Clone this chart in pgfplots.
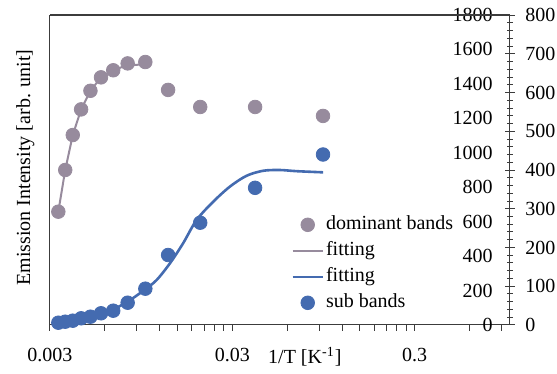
\documentclass[border=0pt]{standalone}
\usepackage{fontspec}
\setmainfont{Liberation Serif}
\usepackage{pgfplots}
\pgfplotsset{compat=1.18}
\definecolor{gr}{RGB}{151,139,157}
\definecolor{bl}{RGB}{68,107,176}
\definecolor{ax}{RGB}{60,60,60}
\begin{document}
\fontsize{10}{12}\selectfont
\begin{tikzpicture}
\begin{axis}[
  scale only axis, width=230pt, height=155pt,
  at={(0pt,0pt)}, anchor=south west,
  xmode=log, xmin=0.003, xmax=1,
  ymin=0, ymax=1800, clip=false,
  tick label style={font=\fontsize{10}{12}\selectfont},
  label style={font=\fontsize{10}{12}\selectfont},
  axis line style={ax, line width=0.5pt},
  tick style={ax, line width=0.5pt},
  xtick={0.003,0.03,0.3}, xticklabels={0.003,0.03,0.3},
  minor xtick={0.006,0.009,0.012,0.015,0.018,0.021,0.024,0.027,0.06,0.09,0.12,0.15,0.18,0.21,0.24,0.27,0.6,0.9},
  xtick pos=bottom, tick align=outside,
  major tick length=3pt, minor tick length=3pt,
  xticklabel style={yshift=-5pt},
  ytick={0,200,...,1800}, ytick pos=right, yticklabel pos=right,
  ytick style={draw=none},
  yticklabel style={anchor=east, inner sep=0pt, xshift=-11.5pt},
  xlabel={1/T [K\textsuperscript{-1}]},
  ylabel={Emission Intensity [arb. unit]},
  every axis x label/.style={at={(axis description cs:0.554,-0.103)},anchor=center},
  every axis y label/.style={at={(axis description cs:-0.0535,0.508)},rotate=90,anchor=center},
  /pgf/number format/1000 sep={},
  /pgf/number format/assume math mode=true,
]
\draw[ax, line width=0.5pt] (rel axis cs:0,1) -- (rel axis cs:1,1);
\addplot[gr, line width=1pt] coordinates {
(0.003333,658) (0.003636,900) (0.004,1103) (0.004444,1252) (0.005,1360)
(0.005714,1438) (0.006667,1479) (0.008,1510) (0.01,1512)};
\addplot[only marks, mark=*, mark size=3.4pt, gr] coordinates {
(0.003333,658) (0.003636,900) (0.004,1103) (0.004444,1252) (0.005,1360)
(0.005714,1438) (0.006667,1479) (0.008,1519) (0.01,1527) (0.013333,1365)
(0.02,1266) (0.04,1266) (0.0943,1214)};
\end{axis}
\begin{axis}[
  scale only axis, width=230pt, height=155pt,
  at={(0pt,0pt)}, anchor=south west,
  xmode=log, xmin=0.003, xmax=1,
  ymin=0, ymax=800,
  tick label style={font=\fontsize{10}{12}\selectfont},
  axis line style={ax, line width=0.5pt},
  tick style={ax, line width=0.5pt},
  axis x line=none, axis y line*=right,
  y axis line style={-},
  ytick={0,100,...,800}, minor y tick num=4,
  tick align=center, major tick length=5pt, minor tick length=3pt,
  yticklabel style={anchor=west, inner sep=0pt, xshift=5pt},
  legend cell align=left,
  legend image code/.code={\draw[mark repeat=2,mark phase=2,#1] plot coordinates {(0pt,0pt) (7.5pt,0pt) (15pt,0pt)};},
  legend style={draw=none, fill=none, at={(axis description cs:0.524,0.36)}, anchor=north west,
    inner sep=0pt, row sep=2pt, font=\fontsize{10}{12}\selectfont,
    nodes={inner sep=1pt, text height=7pt, text depth=2pt}},
  /pgf/number format/1000 sep={},
  /pgf/number format/assume math mode=true,
]
\addplot[bl, line width=1.3pt, smooth, forget plot] coordinates {
(0.00333,4.4) (0.003624,7.7) (0.00438,16.8) (0.00569,31) (0.00667,41) (0.00793,59)
(0.00986,90) (0.01153,116) (0.01364,159) (0.01612,211) (0.0191,271) (0.02355,318)
(0.02907,357) (0.03588,385) (0.04426,398) (0.05462,400) (0.06744,397) (0.09435,394)};
\addplot[only marks, mark=*, mark size=3.4pt, bl, forget plot] coordinates {
(0.003333,5.9) (0.003636,8.5) (0.004,11.1) (0.004444,17.3) (0.005,21.4)
(0.005714,30.2) (0.006667,36.9) (0.008,57.5) (0.01,93.7) (0.013333,180.6)
(0.02,264) (0.04,354) (0.0943,440)};
\addlegendimage{only marks, mark=*, mark size=3.4pt, gr}
\addlegendentry{dominant bands}
\addlegendimage{gr, line width=1pt}
\addlegendentry{fitting}
\addlegendimage{bl, line width=1.3pt}
\addlegendentry{fitting}
\addlegendimage{only marks, mark=*, mark size=3.4pt, bl}
\addlegendentry{sub bands}
\end{axis}
\draw[ax, line width=0.5pt] (0pt,155pt) -- (230pt,155pt);
\pgfresetboundingbox
\path[use as bounding box] (-25pt,-24.5pt) rectangle (253.5pt,162.5pt);
\end{tikzpicture}
\end{document}
